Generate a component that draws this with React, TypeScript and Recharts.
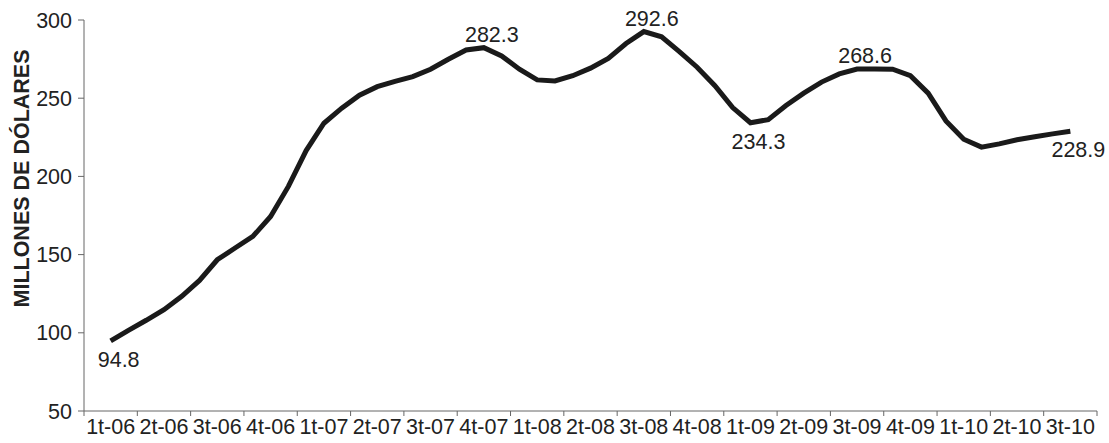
import React from 'react';
import { LineChart, Line, XAxis, YAxis, LabelList, Label } from 'recharts';

// quarter names along the bottom axis
const quarters = [
  '1t-06', '2t-06', '3t-06', '4t-06',
  '1t-07', '2t-07', '3t-07', '4t-07',
  '1t-08', '2t-08', '3t-08', '4t-08',
  '1t-09', '2t-09', '3t-09', '4t-09',
  '1t-10', '2t-10', '3t-10',
];

// monthly values, Feb-06 .. Aug-10 (millones de dólares)
const monthlyValues = [
  94.8, 101.6, 108.0, 114.8, 123.3, 133.5, 146.7, 154.2, 161.6, 174.4,
  193.6, 216.5, 234.0, 243.6, 251.9, 257.4, 260.8, 263.8, 268.5, 274.9,
  280.8, 282.3, 277.0, 268.5, 261.7, 261.0, 264.4, 269.2, 275.5, 285.0,
  292.6, 289.3, 279.8, 269.8, 258.0, 244.0, 234.3, 236.3, 245.3, 253.2,
  260.3, 265.5, 268.6, 268.6, 268.5, 264.4, 253.2, 235.5, 223.8, 218.7,
  220.8, 223.4, 225.3, 227.2, 228.9,
];

// which months carry a value label, and on which side of the line
const labelled: Record<number, 'above' | 'below'> = {
  0: 'below',
  21: 'above',
  30: 'above',
  36: 'below',
  42: 'above',
  54: 'below',
};

const yTicks = [50, 100, 150, 200, 250, 300];

const FONT = '"Liberation Sans", Arial, sans-serif';
const FS = 21.5;

// month position: first month (Feb-06) sits in the middle of its slot
const data = monthlyValues.map((v, i) => ({ t: i + 1.5, v, idx: i }));
const boundaryTicks = quarters.map((_, i) => i * 3).concat(quarters.length * 3);
const centerTicks = quarters.map((_, i) => i * 3 + 1.5);

const ValueLabel = (props: any) => {
  const { x, y, index, value } = props;
  const side = labelled[index];
  if (!side) return null;
  return (
    <text
      x={x + 8}
      y={side === 'above' ? y - 6 : y + 26}
      textAnchor="middle"
      fontSize={FS}
      fontFamily={FONT}
      fill="#222"
    >
      {Number(value).toFixed(1)}
    </text>
  );
};

const YTitle = (props: any) => {
  const { viewBox } = props;
  const cx = 29;
  const cy = viewBox.y + viewBox.height / 2 - 37;
  return (
    <text
      x={cx}
      y={cy}
      transform={`rotate(-90 ${cx} ${cy})`}
      textAnchor="middle"
      fontSize={FS}
      fontWeight="bold"
      fontFamily={FONT}
      fill="#222"
    >
      MILLONES DE DÓLARES
    </text>
  );
};

export default function App() {
  return (
    <div style={{ position: 'absolute', left: 0, top: 0, background: '#fff' }}>
      <LineChart
        width={1109}
        height={443}
        data={data}
        margin={{ top: 20, right: 12, bottom: 0, left: 0 }}
      >
        <XAxis
          xAxisId="m"
          dataKey="t"
          type="number"
          domain={[0, quarters.length * 3]}
          ticks={boundaryTicks}
          interval={0}
          tickFormatter={() => ''}
          tickSize={5}
          height={6}
          axisLine={{ stroke: '#666' }}
          tickLine={{ stroke: '#666' }}
        />
        <XAxis
          xAxisId="q"
          dataKey="t"
          type="number"
          domain={[0, quarters.length * 3]}
          ticks={centerTicks}
          interval={0}
          tickFormatter={(t: number) => quarters[Math.floor(t / 3)]}
          axisLine={false}
          tickLine={false}
          tickSize={0}
          tickMargin={2}
          height={26}
          tick={{ fontSize: FS, fill: '#222', fontFamily: FONT }}
        />
        <YAxis
          domain={[50, 300]}
          ticks={yTicks}
          interval={0}
          width={84}
          tickSize={6}
          tickMargin={6}
          axisLine={{ stroke: '#666' }}
          tickLine={{ stroke: '#666' }}
          tick={{ fontSize: FS, fill: '#222', fontFamily: FONT }}
        >
          <Label content={<YTitle />} />
        </YAxis>
        <Line
          xAxisId="m"
          dataKey="v"
          type="linear"
          stroke="#1a1a1a"
          strokeWidth={5}
          dot={false}
          isAnimationActive={false}
        >
          <LabelList dataKey="v" content={<ValueLabel />} />
        </Line>
      </LineChart>
    </div>
  );
}
